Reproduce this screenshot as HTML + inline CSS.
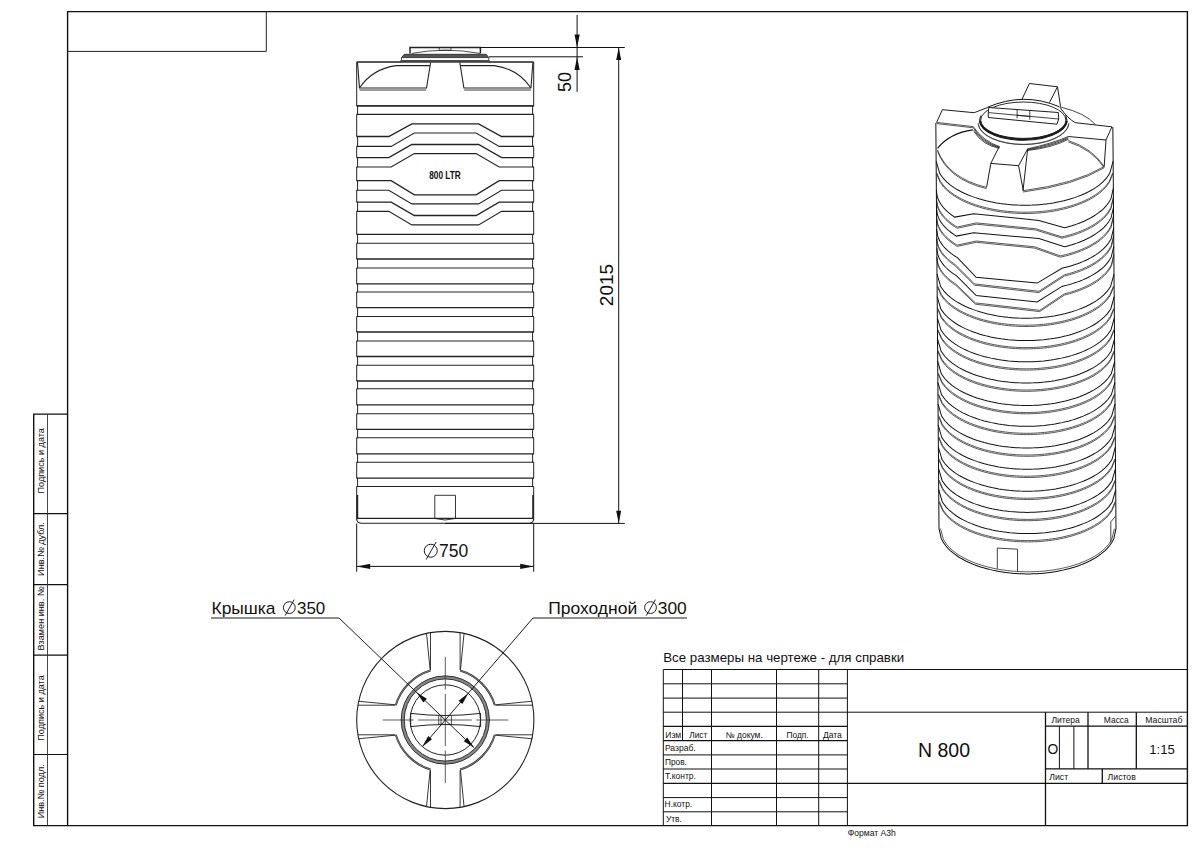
<!DOCTYPE html>
<html><head><meta charset="utf-8">
<style>
html,body{margin:0;padding:0;background:#fff;width:1200px;height:849px;overflow:hidden}
svg{display:block}
text{font-family:"Liberation Sans",sans-serif;fill:#111}
</style></head><body>
<svg width="1200" height="849" viewBox="0 0 1200 849">

<g fill="none" stroke="#111" stroke-width="1.4">
<path d="M67.6 11.6H1187.4V825.6H67.6Z"/>
<path d="M67.6 51.4H266.3V11.6" stroke-width="1" stroke="#222"/>
<path d="M67.6 414.1H33.7V825.6H67.6"/>
<path d="M33.7 513.7H67.6M33.7 584.7H67.6M33.7 655.2H67.6M33.7 754.5H67.6" stroke-width="1.2"/>
<path d="M47.5 414.1V825.6" stroke-width="0.9" stroke="#333"/>
</g>
<g font-size="9.1" fill="#222">
<text transform="translate(44.2 460.8) rotate(-90)" text-anchor="middle">Подпись и дата</text>
<text transform="translate(44.2 549) rotate(-90)" text-anchor="middle">Инв.№ дубл.</text>
<text transform="translate(44.2 618.5) rotate(-90)" text-anchor="middle">Взамен инв. №</text>
<text transform="translate(44.2 708) rotate(-90)" text-anchor="middle">Подпись и дата</text>
<text transform="translate(44.2 791.3) rotate(-90)" text-anchor="middle">Инв.№ подл.</text>
</g>
<g fill="none" stroke="#111" stroke-width="1">
<path d="M663.3 669.5H1187.4"/>
<path d="M663.3 669.5V825.6M682.5 669.5V740.6M711.5 669.5V825.6M776.5 669.5V825.6M818.7 669.5V825.6M847.4 669.5V825.6"/>
<path d="M663.3 683.8H847.4M663.3 698.1H847.4M663.3 712.2H1187.4M663.3 754.9H847.4M663.3 769H847.4M663.3 797.6H847.4M663.3 811.8H847.4"/>
<path d="M663.3 726.4H847.4M663.3 740.6H847.4M663.3 783.4H1187.4" stroke-width="1.3"/>
<path d="M1045.5 712.2V825.6M1088 712.2V768.8M1136.3 712.2V768.8M1102.3 768.8V783.4" stroke-width="1.3"/>
<path d="M1045.5 726.2H1187.4M1045.5 768.8H1187.4" stroke-width="1.3"/>
<path d="M1059.4 726.2V768.8M1073.9 726.2V768.8" stroke-width="1"/>
</g>
<g fill="#111">
<text x="663.2" y="662.3" font-size="13.4" textLength="241" lengthAdjust="spacingAndGlyphs">Все размеры на чертеже - для справки</text>
<text x="665.3" y="737.5" font-size="8.3" textLength="15.9" lengthAdjust="spacingAndGlyphs">Изм</text>
<text x="689.2" y="737.5" font-size="8.3" textLength="18.2" lengthAdjust="spacingAndGlyphs">Лист</text>
<text x="725.6" y="737.5" font-size="8.3" textLength="37.2" lengthAdjust="spacingAndGlyphs">№ докум.</text>
<text x="786.6" y="737.5" font-size="8.3" textLength="22.1" lengthAdjust="spacingAndGlyphs">Подп.</text>
<text x="822.9" y="737.5" font-size="8.3" textLength="19" lengthAdjust="spacingAndGlyphs">Дата</text>
<text x="664.9" y="750.9" font-size="8.3" textLength="30.8" lengthAdjust="spacingAndGlyphs">Разраб.</text>
<text x="664.9" y="764.9" font-size="8.3" textLength="22" lengthAdjust="spacingAndGlyphs">Пров.</text>
<text x="665.1" y="779.3" font-size="8.3" textLength="30.8" lengthAdjust="spacingAndGlyphs">Т.контр.</text>
<text x="664.6" y="807.4" font-size="8.3" textLength="27.6" lengthAdjust="spacingAndGlyphs">Н.котр.</text>
<text x="665.9" y="821.6" font-size="8.3" textLength="16" lengthAdjust="spacingAndGlyphs">Утв.</text>
<text x="944" y="756.7" font-size="19.5" text-anchor="middle">N 800</text>
<text x="1051.4" y="722.9" font-size="8.3" textLength="28.5" lengthAdjust="spacingAndGlyphs">Литера</text>
<text x="1103.8" y="722.9" font-size="8.3" textLength="25" lengthAdjust="spacingAndGlyphs">Масса</text>
<text x="1145.3" y="722.9" font-size="8.3" textLength="37.1" lengthAdjust="spacingAndGlyphs">Масштаб</text>
<text x="1047.6" y="753.6" font-size="13.8">O</text>
<text x="1149.3" y="753.6" font-size="13.1">1:15</text>
<text x="1049.3" y="779.5" font-size="8.3" textLength="18.9" lengthAdjust="spacingAndGlyphs">Лист</text>
<text x="1107.6" y="779.5" font-size="8.3" textLength="28.2" lengthAdjust="spacingAndGlyphs">Листов</text>
<text x="847.8" y="835.8" font-size="8.8" textLength="48" lengthAdjust="spacingAndGlyphs">Формат A3h</text>
</g>
<g fill="none" stroke="#222" stroke-width="1">
<path d="M356.7 62V105.8H357.6V114.4H356.7V136.5H357.6V146.4H356.7V157.6H357.6V167H356.7V180.7H357.6V190.3H356.7V202.1H357.6V211.4H356.7V234.4H357.6V243.3H356.7V259H357.6V268H356.7V283.9H357.6V292H356.7V307.6H357.6V316.5H356.7V332H357.6V341H356.7V356.5H357.6V365.2H356.7V381H357.6V388.8H356.7V404.8H357.6V413.7H356.7V429.3H357.6V437.8H356.7V453.9H357.6V462.2H356.7V478.2H357.6V486.5H356.7V519.5"/>
<path d="M533.7 62V105.8H532.6V114.4H533.7V136.5H532.6V146.4H533.7V157.6H532.6V167H533.7V180.7H532.6V190.3H533.7V202.1H532.6V211.4H533.7V234.4H532.6V243.3H533.7V259H532.6V268H533.7V283.9H532.6V292H533.7V307.6H532.6V316.5H533.7V332H532.6V341H533.7V356.5H532.6V365.2H533.7V381H532.6V388.8H533.7V404.8H532.6V413.7H533.7V429.3H532.6V437.8H533.7V453.9H532.6V462.2H533.7V478.2H532.6V486.5H533.7V519.5"/>
<path d="M356.7 105.8H533.7" stroke-width="1.3"/>
<path d="M356.7 114.4H533.7" stroke-width="1.1"/>
<path d="M356.7 136.5H388.8L411.8 123.9H478.6L501.6 136.5H533.7" stroke-width="1.3"/>
<path d="M356.7 146.4H391.2L414.3 133H476.1L499.2 146.4H533.7" stroke-width="1.1"/>
<path d="M356.7 157.6H388.8L411.8 144.5H478.6L501.6 157.6H533.7" stroke-width="1.3"/>
<path d="M356.7 167H391.2L414.3 153.6H476.1L499.2 167H533.7" stroke-width="1.1"/>
<path d="M356.7 180.7H391.2L414.3 194.8H476.1L499.2 180.7H533.7" stroke-width="1.3"/>
<path d="M356.7 190.3H388.8L411.8 203.9H478.6L501.6 190.3H533.7" stroke-width="1.1"/>
<path d="M356.7 202.1H391.2L414.3 215.5H476.1L499.2 202.1H533.7" stroke-width="1.3"/>
<path d="M356.7 211.4H388.8L411.8 224.9H478.6L501.6 211.4H533.7" stroke-width="1.1"/>
<path d="M356.7 234.4H533.7" stroke-width="1.3"/>
<path d="M356.7 243.3H533.7" stroke-width="1.1"/>
<path d="M356.7 259H533.7" stroke-width="1.3"/>
<path d="M356.7 268H533.7" stroke-width="1.1"/>
<path d="M356.7 283.9H533.7" stroke-width="1.3"/>
<path d="M356.7 292H533.7" stroke-width="1.1"/>
<path d="M356.7 307.6H533.7" stroke-width="1.3"/>
<path d="M356.7 316.5H533.7" stroke-width="1.1"/>
<path d="M356.7 332H533.7" stroke-width="1.3"/>
<path d="M356.7 341H533.7" stroke-width="1.1"/>
<path d="M356.7 356.5H533.7" stroke-width="1.3"/>
<path d="M356.7 365.2H533.7" stroke-width="1.1"/>
<path d="M356.7 381H533.7" stroke-width="1.3"/>
<path d="M356.7 388.8H533.7" stroke-width="1.1"/>
<path d="M356.7 404.8H533.7" stroke-width="1.3"/>
<path d="M356.7 413.7H533.7" stroke-width="1.1"/>
<path d="M356.7 429.3H533.7" stroke-width="1.3"/>
<path d="M356.7 437.8H533.7" stroke-width="1.1"/>
<path d="M356.7 453.9H533.7" stroke-width="1.3"/>
<path d="M356.7 462.2H533.7" stroke-width="1.1"/>
<path d="M356.7 478.2H533.7" stroke-width="1.3"/>
<path d="M356.7 486.5H533.7" stroke-width="1.1"/>
<path d="M356.7 62H401M489.4 62H533.7" stroke-width="1.6"/>
<path d="M357.5 62.5L359.5 88H426.5L430.6 62.5M532.9 62.5L530.9 88H463.9L459.8 62.5" stroke-width="1.1"/>
<path d="M359.5 90H426.2M530.9 90H464.2" stroke-width="0.9"/>
<path d="M359.5 88Q372 69 396 65.6H430M530.9 88Q518.4 69 494.4 65.6H460.4" stroke-width="1.1"/>
<path d="M356.7 105.8H533.7" stroke-width="1.3"/>
<path d="M410 53.4V47.5H480.4V53.4" stroke-width="1.5"/>
<path d="M439.2 47.8V50.3H451V47.8" stroke-width="0.8"/>
<path d="M411.7 53.4Q445 47 480 53.4" stroke-width="0.8"/>
<path d="M404.2 54.3H486.2L488.8 57.6H401.5Z" fill="#555" stroke-width="0.8"/>
<path d="M401.5 57.6V60.5H488.8V57.6" stroke-width="0.8"/>
<rect x="400" y="60.4" width="90" height="2.4" fill="#444" stroke="none"/>
<path d="M356.7 518.4H533.7" stroke-width="1.1"/>
<path d="M356.7 519Q357 523.3 361.5 523.3H529Q533.4 523.3 533.7 519" stroke-width="1.1"/>
<path d="M357.4 495V518M533 495V518" stroke-width="1.6"/>
<path d="M434.8 518.5V495.3H455.5V518.5Q445 521.5 434.8 518.5" stroke-width="0.9"/>
</g>
<text x="445" y="179.3" font-size="11.3" font-weight="bold" text-anchor="middle" textLength="31.6" lengthAdjust="spacingAndGlyphs" fill="#222">800 LTR</text>
<g fill="none" stroke="#111" stroke-width="1">
<path d="M356.7 523.5V571.7M533.7 523.5V571.7M356.7 566.4H533.7"/>
<path d="M618.7 47.5V523.3M480.4 47.5H624.8M445 523.4H624.8"/>
<path d="M577.1 15V91.9M489 56.8H583"/>
</g>
<g fill="#111" stroke="none">
<path d="M356.70 566.40L370.20 563.80L370.20 569.00Z"/>
<path d="M533.70 566.40L520.20 569.00L520.20 563.80Z"/>
<path d="M618.70 47.50L621.20 60.00L616.20 60.00Z"/>
<path d="M618.70 523.30L616.20 510.80L621.20 510.80Z"/>
<path d="M577.10 47.40L574.50 34.40L579.70 34.40Z"/>
<path d="M577.10 56.90L579.70 69.90L574.50 69.90Z"/>
</g>
<g fill="none" stroke="#111" stroke-width="0.95"><circle cx="430.75" cy="550.75" r="6.5"/><path d="M426.15 559.55L436.15 541.95"/></g>
<text x="439" y="557" font-size="17.5">750</text>
<text transform="translate(613 285) rotate(-90)" font-size="19" text-anchor="middle">2015</text>
<text transform="translate(571 81.9) rotate(-90)" font-size="18" text-anchor="middle">50</text>
<g fill="none" stroke="#222" stroke-width="1">
<circle cx="445.3" cy="720.0" r="88.6" stroke-width="1.1"/>
<path d="M494.84 734.80A51.7 51.7 0 0 1 460.10 769.54M430.50 769.54A51.7 51.7 0 0 1 395.76 734.80M395.76 705.20A51.7 51.7 0 0 1 430.50 670.46M460.10 670.46A51.7 51.7 0 0 1 494.84 705.20" stroke="#333" stroke-width="2"/>
<path d="M494.84 734.80A51.7 51.7 0 0 1 460.10 769.54M430.50 769.54A51.7 51.7 0 0 1 395.76 734.80M395.76 705.20A51.7 51.7 0 0 1 430.50 670.46M460.10 670.46A51.7 51.7 0 0 1 494.84 705.20" stroke="#fff" stroke-width="0.35"/>
<path d="M495.46 705.20L532.66 705.20M495.46 704.80L532.36 701.20M495.46 734.80L532.66 734.80M495.46 735.20L532.36 738.80M460.10 770.16L460.10 807.36M460.50 770.16L464.10 807.06M430.50 770.16L430.50 807.36M430.10 770.16L426.50 807.06M395.14 734.80L357.94 734.80M395.14 735.20L358.24 738.80M395.14 705.20L357.94 705.20M395.14 704.80L358.24 701.20M430.50 669.84L430.50 632.64M430.10 669.84L426.50 632.94M460.10 669.84L460.10 632.64M460.50 669.84L464.10 632.94" stroke-width="0.9"/>
<circle cx="445.3" cy="720.0" r="42.6" stroke="#888" stroke-width="3.2"/>
<circle cx="445.3" cy="720.0" r="44.1" stroke="#333" stroke-width="1"/>
<circle cx="445.3" cy="720.0" r="41.1" stroke="#333" stroke-width="1"/>
<circle cx="445.3" cy="720.0" r="35.2" stroke-width="1"/>
<path d="M410.7 713.4Q445 717.6 480.6 713.4V726.6Q445 722.4 410.7 726.6Z" stroke-width="1"/>
<path d="M438.7 715.6V724.4H451.4V715.6M441 715.8V724.2" stroke-width="0.8"/>
<path d="M382.5 720.0H413.7M418.2 720.0H471.8M476.3 720.0H508.3M445.3 656.8V689.5M445.3 694V746M445.3 750.5V783.2" stroke="#333" stroke-width="0.8"/>
</g>
<g fill="none" stroke="#111" stroke-width="0.95">
<path d="M211 618H339L474.16 747.69"/>
<path d="M687 618H533L422.29 746.77"/>
</g>
<g fill="#111" stroke="none">
<path d="M416.44 692.31L426.83 698.81L423.37 702.42Z"/>
<path d="M474.16 747.69L463.77 741.19L467.23 737.58Z"/>
<path d="M468.31 693.23L462.39 703.96L458.59 700.70Z"/>
<path d="M422.29 746.77L428.21 736.04L432.01 739.30Z"/>
</g>
<text x="211.5" y="613.8" font-size="16.4" textLength="64" lengthAdjust="spacingAndGlyphs">Крышка</text>
<g fill="none" stroke="#111" stroke-width="0.95"><circle cx="289.3" cy="607.6" r="5.9"/><path d="M285.12 615.59L294.20 599.61"/></g>
<text x="297" y="613.8" font-size="16.4" textLength="28.3" lengthAdjust="spacingAndGlyphs">350</text>
<text x="548.2" y="613.8" font-size="16.4" textLength="89" lengthAdjust="spacingAndGlyphs">Проходной</text>
<g fill="none" stroke="#111" stroke-width="0.95"><circle cx="650.5" cy="607.6" r="5.9"/><path d="M646.32 615.59L655.40 599.61"/></g>
<text x="657.8" y="613.8" font-size="16.4" textLength="29" lengthAdjust="spacingAndGlyphs">300</text>
<g fill="none" stroke="#111" stroke-width="1" transform="matrix(1 0 0.0078 1 -1.326 0)">
<path d="M936.2 123V528.6L936.20 528.60L938.41 538.67L940.62 542.74L942.84 545.81L945.05 548.35L947.26 550.53L949.48 552.46L951.69 554.20L953.90 555.78L956.11 557.23L958.33 558.56L960.54 559.80L962.75 560.95L964.96 562.02L967.18 563.03L969.39 563.96L971.60 564.84L973.81 565.66L976.03 566.43L978.24 567.15L980.45 567.83L982.66 568.46L984.88 569.05L987.09 569.61L989.30 570.12L991.51 570.59L993.73 571.03L995.94 571.44L998.15 571.81L1000.36 572.15L1002.58 572.46L1004.79 572.74L1007.00 572.98L1009.21 573.20L1011.43 573.39L1013.64 573.54L1015.85 573.67L1018.06 573.77L1020.28 573.84L1022.49 573.89L1024.70 573.90L1026.91 573.89L1029.12 573.84L1031.34 573.77L1033.55 573.67L1035.76 573.54L1037.98 573.39L1040.19 573.20L1042.40 572.98L1044.61 572.74L1046.83 572.46L1049.04 572.15L1051.25 571.81L1053.46 571.44L1055.67 571.03L1057.89 570.59L1060.10 570.12L1062.31 569.61L1064.53 569.05L1066.74 568.46L1068.95 567.83L1071.16 567.15L1073.38 566.43L1075.59 565.66L1077.80 564.84L1080.01 563.96L1082.23 563.03L1084.44 562.02L1086.65 560.95L1088.86 559.80L1091.08 558.56L1093.29 557.23L1095.50 555.78L1097.71 554.20L1099.92 552.46L1102.14 550.53L1104.35 548.35L1106.56 545.81L1108.78 542.74L1110.99 538.67L1113.20 528.60L1113.2 528.6V127"/>
<path d="M937.70 528.60L940.60 539.66L943.50 544.11L946.40 547.43L949.30 550.15L952.20 552.48L955.10 554.52L958.00 556.34L960.90 557.97L963.80 559.45L966.70 560.80L969.60 562.03L972.50 563.16L975.40 564.19L978.30 565.14L981.20 566.01L984.10 566.81L987.00 567.53L989.90 568.19L992.80 568.79L995.70 569.33L998.60 569.81L1001.50 570.24L1004.40 570.61L1007.30 570.93L1010.20 571.20L1013.10 571.41L1016.00 571.58L1018.90 571.70L1021.80 571.78L1024.70 571.80L1027.60 571.78L1030.50 571.70L1033.40 571.58L1036.30 571.41L1039.20 571.20L1042.10 570.93L1045.00 570.61L1047.90 570.24L1050.80 569.81L1053.70 569.33L1056.60 568.79L1059.50 568.19L1062.40 567.53L1065.30 566.81L1068.20 566.01L1071.10 565.14L1074.00 564.19L1076.90 563.16L1079.80 562.03L1082.70 560.80L1085.60 559.45L1088.50 557.97L1091.40 556.34L1094.30 554.52L1097.20 552.48L1100.10 550.15L1103.00 547.43L1105.90 544.11L1108.80 539.66L1111.70 528.60" stroke-width="0.7"/>
<path d="M936.20 161.20L939.74 173.52L943.28 178.44L946.82 182.10L950.36 185.07L953.90 187.60L957.44 189.80L960.98 191.73L964.52 193.46L968.06 195.01L971.60 196.40L975.14 197.65L978.68 198.78L982.22 199.80L985.76 200.71L989.30 201.53L992.84 202.25L996.38 202.89L999.92 203.44L1003.46 203.91L1007.00 204.31L1010.54 204.63L1014.08 204.88L1017.62 205.06L1021.16 205.16L1024.70 205.20L1028.24 205.16L1031.78 205.06L1035.32 204.88L1038.86 204.63L1042.40 204.31L1045.94 203.91L1049.48 203.44L1053.02 202.89L1056.56 202.25L1060.10 201.53L1063.64 200.71L1067.18 199.80L1070.72 198.78L1074.26 197.65L1077.80 196.40L1081.34 195.01L1084.88 193.46L1088.42 191.73L1091.96 189.80L1095.50 187.60L1099.04 185.07L1102.58 182.10L1106.12 178.44L1109.66 173.52L1113.20 161.20"/>
<path d="M936.70 172.87L940.22 181.31L943.74 185.97L947.26 189.50L950.78 192.39L954.30 194.86L957.82 197.02L961.34 198.92L964.86 200.62L968.38 202.14L971.90 203.51L975.42 204.75L978.94 205.86L982.46 206.86L985.98 207.77L989.50 208.57L993.02 209.28L996.54 209.91L1000.06 210.46L1003.58 210.93L1007.10 211.32L1010.62 211.64L1014.14 211.89L1017.66 212.06L1021.18 212.17L1024.70 212.20L1028.22 212.17L1031.74 212.06L1035.26 211.89L1038.78 211.64L1042.30 211.32L1045.82 210.93L1049.34 210.46L1052.86 209.91L1056.38 209.28L1059.90 208.57L1063.42 207.77L1066.94 206.86L1070.46 205.86L1073.98 204.75L1077.50 203.51L1081.02 202.14L1084.54 200.62L1088.06 198.92L1091.58 197.02L1095.10 194.86L1098.62 192.39L1102.14 189.50L1105.66 185.97L1109.18 181.31L1112.70 172.87" stroke="#222" stroke-width="0.75"/>
<path d="M936.70 172.87L940.22 181.31L943.74 185.97L947.26 189.50L950.78 192.39L954.30 194.86L957.82 197.02L961.34 198.92L964.86 200.62L968.38 202.14L971.90 203.51L975.42 204.75L978.94 205.86L982.46 206.86L985.98 207.77L989.50 208.57L993.02 209.28L996.54 209.91L1000.06 210.46L1003.58 210.93L1007.10 211.32L1010.62 211.64L1014.14 211.89L1017.66 212.06L1021.18 212.17L1024.70 212.20L1028.22 212.17L1031.74 212.06L1035.26 211.89L1038.78 211.64L1042.30 211.32L1045.82 210.93L1049.34 210.46L1052.86 209.91L1056.38 209.28L1059.90 208.57L1063.42 207.77L1066.94 206.86L1070.46 205.86L1073.98 204.75L1077.50 203.51L1081.02 202.14L1084.54 200.62L1088.06 198.92L1091.58 197.02L1095.10 194.86L1098.62 192.39L1102.14 189.50L1105.66 185.97L1109.18 181.31L1112.70 172.87" stroke="#222" stroke-width="0.75" transform="translate(0 1.3)"/>
<path d="M936.20 274.20L939.74 286.52L943.28 291.44L946.82 295.10L950.36 298.07L953.90 300.60L957.44 302.80L960.98 304.73L964.52 306.46L968.06 308.01L971.60 309.40L975.14 310.65L978.68 311.78L982.22 312.80L985.76 313.71L989.30 314.53L992.84 315.25L996.38 315.89L999.92 316.44L1003.46 316.91L1007.00 317.31L1010.54 317.63L1014.08 317.88L1017.62 318.06L1021.16 318.16L1024.70 318.20L1028.24 318.16L1031.78 318.06L1035.32 317.88L1038.86 317.63L1042.40 317.31L1045.94 316.91L1049.48 316.44L1053.02 315.89L1056.56 315.25L1060.10 314.53L1063.64 313.71L1067.18 312.80L1070.72 311.78L1074.26 310.65L1077.80 309.40L1081.34 308.01L1084.88 306.46L1088.42 304.73L1091.96 302.80L1095.50 300.60L1099.04 298.07L1102.58 295.10L1106.12 291.44L1109.66 286.52L1113.20 274.20"/>
<path d="M936.70 285.87L940.22 294.31L943.74 298.97L947.26 302.50L950.78 305.39L954.30 307.86L957.82 310.02L961.34 311.92L964.86 313.62L968.38 315.14L971.90 316.51L975.42 317.75L978.94 318.86L982.46 319.86L985.98 320.77L989.50 321.57L993.02 322.28L996.54 322.91L1000.06 323.46L1003.58 323.93L1007.10 324.32L1010.62 324.64L1014.14 324.89L1017.66 325.06L1021.18 325.17L1024.70 325.20L1028.22 325.17L1031.74 325.06L1035.26 324.89L1038.78 324.64L1042.30 324.32L1045.82 323.93L1049.34 323.46L1052.86 322.91L1056.38 322.28L1059.90 321.57L1063.42 320.77L1066.94 319.86L1070.46 318.86L1073.98 317.75L1077.50 316.51L1081.02 315.14L1084.54 313.62L1088.06 311.92L1091.58 310.02L1095.10 307.86L1098.62 305.39L1102.14 302.50L1105.66 298.97L1109.18 294.31L1112.70 285.87" stroke="#222" stroke-width="0.75"/>
<path d="M936.70 285.87L940.22 294.31L943.74 298.97L947.26 302.50L950.78 305.39L954.30 307.86L957.82 310.02L961.34 311.92L964.86 313.62L968.38 315.14L971.90 316.51L975.42 317.75L978.94 318.86L982.46 319.86L985.98 320.77L989.50 321.57L993.02 322.28L996.54 322.91L1000.06 323.46L1003.58 323.93L1007.10 324.32L1010.62 324.64L1014.14 324.89L1017.66 325.06L1021.18 325.17L1024.70 325.20L1028.22 325.17L1031.74 325.06L1035.26 324.89L1038.78 324.64L1042.30 324.32L1045.82 323.93L1049.34 323.46L1052.86 322.91L1056.38 322.28L1059.90 321.57L1063.42 320.77L1066.94 319.86L1070.46 318.86L1073.98 317.75L1077.50 316.51L1081.02 315.14L1084.54 313.62L1088.06 311.92L1091.58 310.02L1095.10 307.86L1098.62 305.39L1102.14 302.50L1105.66 298.97L1109.18 294.31L1112.70 285.87" stroke="#222" stroke-width="0.75" transform="translate(0 1.3)"/>
<path d="M936.20 296.60L939.74 308.92L943.28 313.84L946.82 317.50L950.36 320.47L953.90 323.00L957.44 325.20L960.98 327.13L964.52 328.86L968.06 330.41L971.60 331.80L975.14 333.05L978.68 334.18L982.22 335.20L985.76 336.11L989.30 336.93L992.84 337.65L996.38 338.29L999.92 338.84L1003.46 339.31L1007.00 339.71L1010.54 340.03L1014.08 340.28L1017.62 340.46L1021.16 340.56L1024.70 340.60L1028.24 340.56L1031.78 340.46L1035.32 340.28L1038.86 340.03L1042.40 339.71L1045.94 339.31L1049.48 338.84L1053.02 338.29L1056.56 337.65L1060.10 336.93L1063.64 336.11L1067.18 335.20L1070.72 334.18L1074.26 333.05L1077.80 331.80L1081.34 330.41L1084.88 328.86L1088.42 327.13L1091.96 325.20L1095.50 323.00L1099.04 320.47L1102.58 317.50L1106.12 313.84L1109.66 308.92L1113.20 296.60"/>
<path d="M936.70 308.27L940.22 316.71L943.74 321.37L947.26 324.90L950.78 327.79L954.30 330.26L957.82 332.42L961.34 334.32L964.86 336.02L968.38 337.54L971.90 338.91L975.42 340.15L978.94 341.26L982.46 342.26L985.98 343.17L989.50 343.97L993.02 344.68L996.54 345.31L1000.06 345.86L1003.58 346.33L1007.10 346.72L1010.62 347.04L1014.14 347.29L1017.66 347.46L1021.18 347.57L1024.70 347.60L1028.22 347.57L1031.74 347.46L1035.26 347.29L1038.78 347.04L1042.30 346.72L1045.82 346.33L1049.34 345.86L1052.86 345.31L1056.38 344.68L1059.90 343.97L1063.42 343.17L1066.94 342.26L1070.46 341.26L1073.98 340.15L1077.50 338.91L1081.02 337.54L1084.54 336.02L1088.06 334.32L1091.58 332.42L1095.10 330.26L1098.62 327.79L1102.14 324.90L1105.66 321.37L1109.18 316.71L1112.70 308.27" stroke="#222" stroke-width="0.75"/>
<path d="M936.70 308.27L940.22 316.71L943.74 321.37L947.26 324.90L950.78 327.79L954.30 330.26L957.82 332.42L961.34 334.32L964.86 336.02L968.38 337.54L971.90 338.91L975.42 340.15L978.94 341.26L982.46 342.26L985.98 343.17L989.50 343.97L993.02 344.68L996.54 345.31L1000.06 345.86L1003.58 346.33L1007.10 346.72L1010.62 347.04L1014.14 347.29L1017.66 347.46L1021.18 347.57L1024.70 347.60L1028.22 347.57L1031.74 347.46L1035.26 347.29L1038.78 347.04L1042.30 346.72L1045.82 346.33L1049.34 345.86L1052.86 345.31L1056.38 344.68L1059.90 343.97L1063.42 343.17L1066.94 342.26L1070.46 341.26L1073.98 340.15L1077.50 338.91L1081.02 337.54L1084.54 336.02L1088.06 334.32L1091.58 332.42L1095.10 330.26L1098.62 327.79L1102.14 324.90L1105.66 321.37L1109.18 316.71L1112.70 308.27" stroke="#222" stroke-width="0.75" transform="translate(0 1.3)"/>
<path d="M936.20 317.80L939.74 330.12L943.28 335.04L946.82 338.70L950.36 341.67L953.90 344.20L957.44 346.40L960.98 348.33L964.52 350.06L968.06 351.61L971.60 353.00L975.14 354.25L978.68 355.38L982.22 356.40L985.76 357.31L989.30 358.13L992.84 358.85L996.38 359.49L999.92 360.04L1003.46 360.51L1007.00 360.91L1010.54 361.23L1014.08 361.48L1017.62 361.66L1021.16 361.76L1024.70 361.80L1028.24 361.76L1031.78 361.66L1035.32 361.48L1038.86 361.23L1042.40 360.91L1045.94 360.51L1049.48 360.04L1053.02 359.49L1056.56 358.85L1060.10 358.13L1063.64 357.31L1067.18 356.40L1070.72 355.38L1074.26 354.25L1077.80 353.00L1081.34 351.61L1084.88 350.06L1088.42 348.33L1091.96 346.40L1095.50 344.20L1099.04 341.67L1102.58 338.70L1106.12 335.04L1109.66 330.12L1113.20 317.80"/>
<path d="M936.70 329.47L940.22 337.91L943.74 342.57L947.26 346.10L950.78 348.99L954.30 351.46L957.82 353.62L961.34 355.52L964.86 357.22L968.38 358.74L971.90 360.11L975.42 361.35L978.94 362.46L982.46 363.46L985.98 364.37L989.50 365.17L993.02 365.88L996.54 366.51L1000.06 367.06L1003.58 367.53L1007.10 367.92L1010.62 368.24L1014.14 368.49L1017.66 368.66L1021.18 368.77L1024.70 368.80L1028.22 368.77L1031.74 368.66L1035.26 368.49L1038.78 368.24L1042.30 367.92L1045.82 367.53L1049.34 367.06L1052.86 366.51L1056.38 365.88L1059.90 365.17L1063.42 364.37L1066.94 363.46L1070.46 362.46L1073.98 361.35L1077.50 360.11L1081.02 358.74L1084.54 357.22L1088.06 355.52L1091.58 353.62L1095.10 351.46L1098.62 348.99L1102.14 346.10L1105.66 342.57L1109.18 337.91L1112.70 329.47" stroke="#222" stroke-width="0.75"/>
<path d="M936.70 329.47L940.22 337.91L943.74 342.57L947.26 346.10L950.78 348.99L954.30 351.46L957.82 353.62L961.34 355.52L964.86 357.22L968.38 358.74L971.90 360.11L975.42 361.35L978.94 362.46L982.46 363.46L985.98 364.37L989.50 365.17L993.02 365.88L996.54 366.51L1000.06 367.06L1003.58 367.53L1007.10 367.92L1010.62 368.24L1014.14 368.49L1017.66 368.66L1021.18 368.77L1024.70 368.80L1028.22 368.77L1031.74 368.66L1035.26 368.49L1038.78 368.24L1042.30 367.92L1045.82 367.53L1049.34 367.06L1052.86 366.51L1056.38 365.88L1059.90 365.17L1063.42 364.37L1066.94 363.46L1070.46 362.46L1073.98 361.35L1077.50 360.11L1081.02 358.74L1084.54 357.22L1088.06 355.52L1091.58 353.62L1095.10 351.46L1098.62 348.99L1102.14 346.10L1105.66 342.57L1109.18 337.91L1112.70 329.47" stroke="#222" stroke-width="0.75" transform="translate(0 1.3)"/>
<path d="M936.20 339.00L939.74 351.32L943.28 356.24L946.82 359.90L950.36 362.87L953.90 365.40L957.44 367.60L960.98 369.53L964.52 371.26L968.06 372.81L971.60 374.20L975.14 375.45L978.68 376.58L982.22 377.60L985.76 378.51L989.30 379.33L992.84 380.05L996.38 380.69L999.92 381.24L1003.46 381.71L1007.00 382.11L1010.54 382.43L1014.08 382.68L1017.62 382.86L1021.16 382.96L1024.70 383.00L1028.24 382.96L1031.78 382.86L1035.32 382.68L1038.86 382.43L1042.40 382.11L1045.94 381.71L1049.48 381.24L1053.02 380.69L1056.56 380.05L1060.10 379.33L1063.64 378.51L1067.18 377.60L1070.72 376.58L1074.26 375.45L1077.80 374.20L1081.34 372.81L1084.88 371.26L1088.42 369.53L1091.96 367.60L1095.50 365.40L1099.04 362.87L1102.58 359.90L1106.12 356.24L1109.66 351.32L1113.20 339.00"/>
<path d="M936.70 350.67L940.22 359.11L943.74 363.77L947.26 367.30L950.78 370.19L954.30 372.66L957.82 374.82L961.34 376.72L964.86 378.42L968.38 379.94L971.90 381.31L975.42 382.55L978.94 383.66L982.46 384.66L985.98 385.57L989.50 386.37L993.02 387.08L996.54 387.71L1000.06 388.26L1003.58 388.73L1007.10 389.12L1010.62 389.44L1014.14 389.69L1017.66 389.86L1021.18 389.97L1024.70 390.00L1028.22 389.97L1031.74 389.86L1035.26 389.69L1038.78 389.44L1042.30 389.12L1045.82 388.73L1049.34 388.26L1052.86 387.71L1056.38 387.08L1059.90 386.37L1063.42 385.57L1066.94 384.66L1070.46 383.66L1073.98 382.55L1077.50 381.31L1081.02 379.94L1084.54 378.42L1088.06 376.72L1091.58 374.82L1095.10 372.66L1098.62 370.19L1102.14 367.30L1105.66 363.77L1109.18 359.11L1112.70 350.67" stroke="#222" stroke-width="0.75"/>
<path d="M936.70 350.67L940.22 359.11L943.74 363.77L947.26 367.30L950.78 370.19L954.30 372.66L957.82 374.82L961.34 376.72L964.86 378.42L968.38 379.94L971.90 381.31L975.42 382.55L978.94 383.66L982.46 384.66L985.98 385.57L989.50 386.37L993.02 387.08L996.54 387.71L1000.06 388.26L1003.58 388.73L1007.10 389.12L1010.62 389.44L1014.14 389.69L1017.66 389.86L1021.18 389.97L1024.70 390.00L1028.22 389.97L1031.74 389.86L1035.26 389.69L1038.78 389.44L1042.30 389.12L1045.82 388.73L1049.34 388.26L1052.86 387.71L1056.38 387.08L1059.90 386.37L1063.42 385.57L1066.94 384.66L1070.46 383.66L1073.98 382.55L1077.50 381.31L1081.02 379.94L1084.54 378.42L1088.06 376.72L1091.58 374.82L1095.10 372.66L1098.62 370.19L1102.14 367.30L1105.66 363.77L1109.18 359.11L1112.70 350.67" stroke="#222" stroke-width="0.75" transform="translate(0 1.3)"/>
<path d="M936.20 361.50L939.74 373.82L943.28 378.74L946.82 382.40L950.36 385.37L953.90 387.90L957.44 390.10L960.98 392.03L964.52 393.76L968.06 395.31L971.60 396.70L975.14 397.95L978.68 399.08L982.22 400.10L985.76 401.01L989.30 401.83L992.84 402.55L996.38 403.19L999.92 403.74L1003.46 404.21L1007.00 404.61L1010.54 404.93L1014.08 405.18L1017.62 405.36L1021.16 405.46L1024.70 405.50L1028.24 405.46L1031.78 405.36L1035.32 405.18L1038.86 404.93L1042.40 404.61L1045.94 404.21L1049.48 403.74L1053.02 403.19L1056.56 402.55L1060.10 401.83L1063.64 401.01L1067.18 400.10L1070.72 399.08L1074.26 397.95L1077.80 396.70L1081.34 395.31L1084.88 393.76L1088.42 392.03L1091.96 390.10L1095.50 387.90L1099.04 385.37L1102.58 382.40L1106.12 378.74L1109.66 373.82L1113.20 361.50"/>
<path d="M936.70 373.17L940.22 381.61L943.74 386.27L947.26 389.80L950.78 392.69L954.30 395.16L957.82 397.32L961.34 399.22L964.86 400.92L968.38 402.44L971.90 403.81L975.42 405.05L978.94 406.16L982.46 407.16L985.98 408.07L989.50 408.87L993.02 409.58L996.54 410.21L1000.06 410.76L1003.58 411.23L1007.10 411.62L1010.62 411.94L1014.14 412.19L1017.66 412.36L1021.18 412.47L1024.70 412.50L1028.22 412.47L1031.74 412.36L1035.26 412.19L1038.78 411.94L1042.30 411.62L1045.82 411.23L1049.34 410.76L1052.86 410.21L1056.38 409.58L1059.90 408.87L1063.42 408.07L1066.94 407.16L1070.46 406.16L1073.98 405.05L1077.50 403.81L1081.02 402.44L1084.54 400.92L1088.06 399.22L1091.58 397.32L1095.10 395.16L1098.62 392.69L1102.14 389.80L1105.66 386.27L1109.18 381.61L1112.70 373.17" stroke="#222" stroke-width="0.75"/>
<path d="M936.70 373.17L940.22 381.61L943.74 386.27L947.26 389.80L950.78 392.69L954.30 395.16L957.82 397.32L961.34 399.22L964.86 400.92L968.38 402.44L971.90 403.81L975.42 405.05L978.94 406.16L982.46 407.16L985.98 408.07L989.50 408.87L993.02 409.58L996.54 410.21L1000.06 410.76L1003.58 411.23L1007.10 411.62L1010.62 411.94L1014.14 412.19L1017.66 412.36L1021.18 412.47L1024.70 412.50L1028.22 412.47L1031.74 412.36L1035.26 412.19L1038.78 411.94L1042.30 411.62L1045.82 411.23L1049.34 410.76L1052.86 410.21L1056.38 409.58L1059.90 408.87L1063.42 408.07L1066.94 407.16L1070.46 406.16L1073.98 405.05L1077.50 403.81L1081.02 402.44L1084.54 400.92L1088.06 399.22L1091.58 397.32L1095.10 395.16L1098.62 392.69L1102.14 389.80L1105.66 386.27L1109.18 381.61L1112.70 373.17" stroke="#222" stroke-width="0.75" transform="translate(0 1.3)"/>
<path d="M936.20 382.30L939.74 394.62L943.28 399.54L946.82 403.20L950.36 406.17L953.90 408.70L957.44 410.90L960.98 412.83L964.52 414.56L968.06 416.11L971.60 417.50L975.14 418.75L978.68 419.88L982.22 420.90L985.76 421.81L989.30 422.63L992.84 423.35L996.38 423.99L999.92 424.54L1003.46 425.01L1007.00 425.41L1010.54 425.73L1014.08 425.98L1017.62 426.16L1021.16 426.26L1024.70 426.30L1028.24 426.26L1031.78 426.16L1035.32 425.98L1038.86 425.73L1042.40 425.41L1045.94 425.01L1049.48 424.54L1053.02 423.99L1056.56 423.35L1060.10 422.63L1063.64 421.81L1067.18 420.90L1070.72 419.88L1074.26 418.75L1077.80 417.50L1081.34 416.11L1084.88 414.56L1088.42 412.83L1091.96 410.90L1095.50 408.70L1099.04 406.17L1102.58 403.20L1106.12 399.54L1109.66 394.62L1113.20 382.30"/>
<path d="M936.70 393.97L940.22 402.41L943.74 407.07L947.26 410.60L950.78 413.49L954.30 415.96L957.82 418.12L961.34 420.02L964.86 421.72L968.38 423.24L971.90 424.61L975.42 425.85L978.94 426.96L982.46 427.96L985.98 428.87L989.50 429.67L993.02 430.38L996.54 431.01L1000.06 431.56L1003.58 432.03L1007.10 432.42L1010.62 432.74L1014.14 432.99L1017.66 433.16L1021.18 433.27L1024.70 433.30L1028.22 433.27L1031.74 433.16L1035.26 432.99L1038.78 432.74L1042.30 432.42L1045.82 432.03L1049.34 431.56L1052.86 431.01L1056.38 430.38L1059.90 429.67L1063.42 428.87L1066.94 427.96L1070.46 426.96L1073.98 425.85L1077.50 424.61L1081.02 423.24L1084.54 421.72L1088.06 420.02L1091.58 418.12L1095.10 415.96L1098.62 413.49L1102.14 410.60L1105.66 407.07L1109.18 402.41L1112.70 393.97" stroke="#222" stroke-width="0.75"/>
<path d="M936.70 393.97L940.22 402.41L943.74 407.07L947.26 410.60L950.78 413.49L954.30 415.96L957.82 418.12L961.34 420.02L964.86 421.72L968.38 423.24L971.90 424.61L975.42 425.85L978.94 426.96L982.46 427.96L985.98 428.87L989.50 429.67L993.02 430.38L996.54 431.01L1000.06 431.56L1003.58 432.03L1007.10 432.42L1010.62 432.74L1014.14 432.99L1017.66 433.16L1021.18 433.27L1024.70 433.30L1028.22 433.27L1031.74 433.16L1035.26 432.99L1038.78 432.74L1042.30 432.42L1045.82 432.03L1049.34 431.56L1052.86 431.01L1056.38 430.38L1059.90 429.67L1063.42 428.87L1066.94 427.96L1070.46 426.96L1073.98 425.85L1077.50 424.61L1081.02 423.24L1084.54 421.72L1088.06 420.02L1091.58 418.12L1095.10 415.96L1098.62 413.49L1102.14 410.60L1105.66 407.07L1109.18 402.41L1112.70 393.97" stroke="#222" stroke-width="0.75" transform="translate(0 1.3)"/>
<path d="M936.20 404.00L939.74 416.32L943.28 421.24L946.82 424.90L950.36 427.87L953.90 430.40L957.44 432.60L960.98 434.53L964.52 436.26L968.06 437.81L971.60 439.20L975.14 440.45L978.68 441.58L982.22 442.60L985.76 443.51L989.30 444.33L992.84 445.05L996.38 445.69L999.92 446.24L1003.46 446.71L1007.00 447.11L1010.54 447.43L1014.08 447.68L1017.62 447.86L1021.16 447.96L1024.70 448.00L1028.24 447.96L1031.78 447.86L1035.32 447.68L1038.86 447.43L1042.40 447.11L1045.94 446.71L1049.48 446.24L1053.02 445.69L1056.56 445.05L1060.10 444.33L1063.64 443.51L1067.18 442.60L1070.72 441.58L1074.26 440.45L1077.80 439.20L1081.34 437.81L1084.88 436.26L1088.42 434.53L1091.96 432.60L1095.50 430.40L1099.04 427.87L1102.58 424.90L1106.12 421.24L1109.66 416.32L1113.20 404.00"/>
<path d="M936.70 415.67L940.22 424.11L943.74 428.77L947.26 432.30L950.78 435.19L954.30 437.66L957.82 439.82L961.34 441.72L964.86 443.42L968.38 444.94L971.90 446.31L975.42 447.55L978.94 448.66L982.46 449.66L985.98 450.57L989.50 451.37L993.02 452.08L996.54 452.71L1000.06 453.26L1003.58 453.73L1007.10 454.12L1010.62 454.44L1014.14 454.69L1017.66 454.86L1021.18 454.97L1024.70 455.00L1028.22 454.97L1031.74 454.86L1035.26 454.69L1038.78 454.44L1042.30 454.12L1045.82 453.73L1049.34 453.26L1052.86 452.71L1056.38 452.08L1059.90 451.37L1063.42 450.57L1066.94 449.66L1070.46 448.66L1073.98 447.55L1077.50 446.31L1081.02 444.94L1084.54 443.42L1088.06 441.72L1091.58 439.82L1095.10 437.66L1098.62 435.19L1102.14 432.30L1105.66 428.77L1109.18 424.11L1112.70 415.67" stroke="#222" stroke-width="0.75"/>
<path d="M936.70 415.67L940.22 424.11L943.74 428.77L947.26 432.30L950.78 435.19L954.30 437.66L957.82 439.82L961.34 441.72L964.86 443.42L968.38 444.94L971.90 446.31L975.42 447.55L978.94 448.66L982.46 449.66L985.98 450.57L989.50 451.37L993.02 452.08L996.54 452.71L1000.06 453.26L1003.58 453.73L1007.10 454.12L1010.62 454.44L1014.14 454.69L1017.66 454.86L1021.18 454.97L1024.70 455.00L1028.22 454.97L1031.74 454.86L1035.26 454.69L1038.78 454.44L1042.30 454.12L1045.82 453.73L1049.34 453.26L1052.86 452.71L1056.38 452.08L1059.90 451.37L1063.42 450.57L1066.94 449.66L1070.46 448.66L1073.98 447.55L1077.50 446.31L1081.02 444.94L1084.54 443.42L1088.06 441.72L1091.58 439.82L1095.10 437.66L1098.62 435.19L1102.14 432.30L1105.66 428.77L1109.18 424.11L1112.70 415.67" stroke="#222" stroke-width="0.75" transform="translate(0 1.3)"/>
<path d="M936.20 425.20L939.74 437.52L943.28 442.44L946.82 446.10L950.36 449.07L953.90 451.60L957.44 453.80L960.98 455.73L964.52 457.46L968.06 459.01L971.60 460.40L975.14 461.65L978.68 462.78L982.22 463.80L985.76 464.71L989.30 465.53L992.84 466.25L996.38 466.89L999.92 467.44L1003.46 467.91L1007.00 468.31L1010.54 468.63L1014.08 468.88L1017.62 469.06L1021.16 469.16L1024.70 469.20L1028.24 469.16L1031.78 469.06L1035.32 468.88L1038.86 468.63L1042.40 468.31L1045.94 467.91L1049.48 467.44L1053.02 466.89L1056.56 466.25L1060.10 465.53L1063.64 464.71L1067.18 463.80L1070.72 462.78L1074.26 461.65L1077.80 460.40L1081.34 459.01L1084.88 457.46L1088.42 455.73L1091.96 453.80L1095.50 451.60L1099.04 449.07L1102.58 446.10L1106.12 442.44L1109.66 437.52L1113.20 425.20"/>
<path d="M936.70 436.87L940.22 445.31L943.74 449.97L947.26 453.50L950.78 456.39L954.30 458.86L957.82 461.02L961.34 462.92L964.86 464.62L968.38 466.14L971.90 467.51L975.42 468.75L978.94 469.86L982.46 470.86L985.98 471.77L989.50 472.57L993.02 473.28L996.54 473.91L1000.06 474.46L1003.58 474.93L1007.10 475.32L1010.62 475.64L1014.14 475.89L1017.66 476.06L1021.18 476.17L1024.70 476.20L1028.22 476.17L1031.74 476.06L1035.26 475.89L1038.78 475.64L1042.30 475.32L1045.82 474.93L1049.34 474.46L1052.86 473.91L1056.38 473.28L1059.90 472.57L1063.42 471.77L1066.94 470.86L1070.46 469.86L1073.98 468.75L1077.50 467.51L1081.02 466.14L1084.54 464.62L1088.06 462.92L1091.58 461.02L1095.10 458.86L1098.62 456.39L1102.14 453.50L1105.66 449.97L1109.18 445.31L1112.70 436.87" stroke="#222" stroke-width="0.75"/>
<path d="M936.70 436.87L940.22 445.31L943.74 449.97L947.26 453.50L950.78 456.39L954.30 458.86L957.82 461.02L961.34 462.92L964.86 464.62L968.38 466.14L971.90 467.51L975.42 468.75L978.94 469.86L982.46 470.86L985.98 471.77L989.50 472.57L993.02 473.28L996.54 473.91L1000.06 474.46L1003.58 474.93L1007.10 475.32L1010.62 475.64L1014.14 475.89L1017.66 476.06L1021.18 476.17L1024.70 476.20L1028.22 476.17L1031.74 476.06L1035.26 475.89L1038.78 475.64L1042.30 475.32L1045.82 474.93L1049.34 474.46L1052.86 473.91L1056.38 473.28L1059.90 472.57L1063.42 471.77L1066.94 470.86L1070.46 469.86L1073.98 468.75L1077.50 467.51L1081.02 466.14L1084.54 464.62L1088.06 462.92L1091.58 461.02L1095.10 458.86L1098.62 456.39L1102.14 453.50L1105.66 449.97L1109.18 445.31L1112.70 436.87" stroke="#222" stroke-width="0.75" transform="translate(0 1.3)"/>
<path d="M936.20 447.20L939.74 459.52L943.28 464.44L946.82 468.10L950.36 471.07L953.90 473.60L957.44 475.80L960.98 477.73L964.52 479.46L968.06 481.01L971.60 482.40L975.14 483.65L978.68 484.78L982.22 485.80L985.76 486.71L989.30 487.53L992.84 488.25L996.38 488.89L999.92 489.44L1003.46 489.91L1007.00 490.31L1010.54 490.63L1014.08 490.88L1017.62 491.06L1021.16 491.16L1024.70 491.20L1028.24 491.16L1031.78 491.06L1035.32 490.88L1038.86 490.63L1042.40 490.31L1045.94 489.91L1049.48 489.44L1053.02 488.89L1056.56 488.25L1060.10 487.53L1063.64 486.71L1067.18 485.80L1070.72 484.78L1074.26 483.65L1077.80 482.40L1081.34 481.01L1084.88 479.46L1088.42 477.73L1091.96 475.80L1095.50 473.60L1099.04 471.07L1102.58 468.10L1106.12 464.44L1109.66 459.52L1113.20 447.20"/>
<path d="M936.70 458.87L940.22 467.31L943.74 471.97L947.26 475.50L950.78 478.39L954.30 480.86L957.82 483.02L961.34 484.92L964.86 486.62L968.38 488.14L971.90 489.51L975.42 490.75L978.94 491.86L982.46 492.86L985.98 493.77L989.50 494.57L993.02 495.28L996.54 495.91L1000.06 496.46L1003.58 496.93L1007.10 497.32L1010.62 497.64L1014.14 497.89L1017.66 498.06L1021.18 498.17L1024.70 498.20L1028.22 498.17L1031.74 498.06L1035.26 497.89L1038.78 497.64L1042.30 497.32L1045.82 496.93L1049.34 496.46L1052.86 495.91L1056.38 495.28L1059.90 494.57L1063.42 493.77L1066.94 492.86L1070.46 491.86L1073.98 490.75L1077.50 489.51L1081.02 488.14L1084.54 486.62L1088.06 484.92L1091.58 483.02L1095.10 480.86L1098.62 478.39L1102.14 475.50L1105.66 471.97L1109.18 467.31L1112.70 458.87" stroke="#222" stroke-width="0.75"/>
<path d="M936.70 458.87L940.22 467.31L943.74 471.97L947.26 475.50L950.78 478.39L954.30 480.86L957.82 483.02L961.34 484.92L964.86 486.62L968.38 488.14L971.90 489.51L975.42 490.75L978.94 491.86L982.46 492.86L985.98 493.77L989.50 494.57L993.02 495.28L996.54 495.91L1000.06 496.46L1003.58 496.93L1007.10 497.32L1010.62 497.64L1014.14 497.89L1017.66 498.06L1021.18 498.17L1024.70 498.20L1028.22 498.17L1031.74 498.06L1035.26 497.89L1038.78 497.64L1042.30 497.32L1045.82 496.93L1049.34 496.46L1052.86 495.91L1056.38 495.28L1059.90 494.57L1063.42 493.77L1066.94 492.86L1070.46 491.86L1073.98 490.75L1077.50 489.51L1081.02 488.14L1084.54 486.62L1088.06 484.92L1091.58 483.02L1095.10 480.86L1098.62 478.39L1102.14 475.50L1105.66 471.97L1109.18 467.31L1112.70 458.87" stroke="#222" stroke-width="0.75" transform="translate(0 1.3)"/>
<path d="M936.20 468.40L939.74 480.72L943.28 485.64L946.82 489.30L950.36 492.27L953.90 494.80L957.44 497.00L960.98 498.93L964.52 500.66L968.06 502.21L971.60 503.60L975.14 504.85L978.68 505.98L982.22 507.00L985.76 507.91L989.30 508.73L992.84 509.45L996.38 510.09L999.92 510.64L1003.46 511.11L1007.00 511.51L1010.54 511.83L1014.08 512.08L1017.62 512.26L1021.16 512.36L1024.70 512.40L1028.24 512.36L1031.78 512.26L1035.32 512.08L1038.86 511.83L1042.40 511.51L1045.94 511.11L1049.48 510.64L1053.02 510.09L1056.56 509.45L1060.10 508.73L1063.64 507.91L1067.18 507.00L1070.72 505.98L1074.26 504.85L1077.80 503.60L1081.34 502.21L1084.88 500.66L1088.42 498.93L1091.96 497.00L1095.50 494.80L1099.04 492.27L1102.58 489.30L1106.12 485.64L1109.66 480.72L1113.20 468.40"/>
<path d="M936.70 480.07L940.22 488.51L943.74 493.17L947.26 496.70L950.78 499.59L954.30 502.06L957.82 504.22L961.34 506.12L964.86 507.82L968.38 509.34L971.90 510.71L975.42 511.95L978.94 513.06L982.46 514.06L985.98 514.97L989.50 515.77L993.02 516.48L996.54 517.11L1000.06 517.66L1003.58 518.13L1007.10 518.52L1010.62 518.84L1014.14 519.09L1017.66 519.26L1021.18 519.37L1024.70 519.40L1028.22 519.37L1031.74 519.26L1035.26 519.09L1038.78 518.84L1042.30 518.52L1045.82 518.13L1049.34 517.66L1052.86 517.11L1056.38 516.48L1059.90 515.77L1063.42 514.97L1066.94 514.06L1070.46 513.06L1073.98 511.95L1077.50 510.71L1081.02 509.34L1084.54 507.82L1088.06 506.12L1091.58 504.22L1095.10 502.06L1098.62 499.59L1102.14 496.70L1105.66 493.17L1109.18 488.51L1112.70 480.07" stroke="#222" stroke-width="0.75"/>
<path d="M936.70 480.07L940.22 488.51L943.74 493.17L947.26 496.70L950.78 499.59L954.30 502.06L957.82 504.22L961.34 506.12L964.86 507.82L968.38 509.34L971.90 510.71L975.42 511.95L978.94 513.06L982.46 514.06L985.98 514.97L989.50 515.77L993.02 516.48L996.54 517.11L1000.06 517.66L1003.58 518.13L1007.10 518.52L1010.62 518.84L1014.14 519.09L1017.66 519.26L1021.18 519.37L1024.70 519.40L1028.22 519.37L1031.74 519.26L1035.26 519.09L1038.78 518.84L1042.30 518.52L1045.82 518.13L1049.34 517.66L1052.86 517.11L1056.38 516.48L1059.90 515.77L1063.42 514.97L1066.94 514.06L1070.46 513.06L1073.98 511.95L1077.50 510.71L1081.02 509.34L1084.54 507.82L1088.06 506.12L1091.58 504.22L1095.10 502.06L1098.62 499.59L1102.14 496.70L1105.66 493.17L1109.18 488.51L1112.70 480.07" stroke="#222" stroke-width="0.75" transform="translate(0 1.3)"/>
<path d="M936.20 489.60L939.74 501.92L943.28 506.84L946.82 510.50L950.36 513.47L953.90 516.00L957.44 518.20L960.98 520.13L964.52 521.86L968.06 523.41L971.60 524.80L975.14 526.05L978.68 527.18L982.22 528.20L985.76 529.11L989.30 529.93L992.84 530.65L996.38 531.29L999.92 531.84L1003.46 532.31L1007.00 532.71L1010.54 533.03L1014.08 533.28L1017.62 533.46L1021.16 533.56L1024.70 533.60L1028.24 533.56L1031.78 533.46L1035.32 533.28L1038.86 533.03L1042.40 532.71L1045.94 532.31L1049.48 531.84L1053.02 531.29L1056.56 530.65L1060.10 529.93L1063.64 529.11L1067.18 528.20L1070.72 527.18L1074.26 526.05L1077.80 524.80L1081.34 523.41L1084.88 521.86L1088.42 520.13L1091.96 518.20L1095.50 516.00L1099.04 513.47L1102.58 510.50L1106.12 506.84L1109.66 501.92L1113.20 489.60"/>
<path d="M936.70 501.27L940.22 509.71L943.74 514.37L947.26 517.90L950.78 520.79L954.30 523.26L957.82 525.42L961.34 527.32L964.86 529.02L968.38 530.54L971.90 531.91L975.42 533.15L978.94 534.26L982.46 535.26L985.98 536.17L989.50 536.97L993.02 537.68L996.54 538.31L1000.06 538.86L1003.58 539.33L1007.10 539.72L1010.62 540.04L1014.14 540.29L1017.66 540.46L1021.18 540.57L1024.70 540.60L1028.22 540.57L1031.74 540.46L1035.26 540.29L1038.78 540.04L1042.30 539.72L1045.82 539.33L1049.34 538.86L1052.86 538.31L1056.38 537.68L1059.90 536.97L1063.42 536.17L1066.94 535.26L1070.46 534.26L1073.98 533.15L1077.50 531.91L1081.02 530.54L1084.54 529.02L1088.06 527.32L1091.58 525.42L1095.10 523.26L1098.62 520.79L1102.14 517.90L1105.66 514.37L1109.18 509.71L1112.70 501.27" stroke="#222" stroke-width="0.75"/>
<path d="M936.70 501.27L940.22 509.71L943.74 514.37L947.26 517.90L950.78 520.79L954.30 523.26L957.82 525.42L961.34 527.32L964.86 529.02L968.38 530.54L971.90 531.91L975.42 533.15L978.94 534.26L982.46 535.26L985.98 536.17L989.50 536.97L993.02 537.68L996.54 538.31L1000.06 538.86L1003.58 539.33L1007.10 539.72L1010.62 540.04L1014.14 540.29L1017.66 540.46L1021.18 540.57L1024.70 540.60L1028.22 540.57L1031.74 540.46L1035.26 540.29L1038.78 540.04L1042.30 539.72L1045.82 539.33L1049.34 538.86L1052.86 538.31L1056.38 537.68L1059.90 536.97L1063.42 536.17L1066.94 535.26L1070.46 534.26L1073.98 533.15L1077.50 531.91L1081.02 530.54L1084.54 529.02L1088.06 527.32L1091.58 525.42L1095.10 523.26L1098.62 520.79L1102.14 517.90L1105.66 514.37L1109.18 509.71L1112.70 501.27" stroke="#222" stroke-width="0.75" transform="translate(0 1.3)"/>
<path d="M936.20 190.42L937.11 196.70L938.01 199.28L938.92 201.24L939.83 202.88L940.73 204.32L941.64 205.60L942.55 206.78L943.45 207.86L944.36 208.87L945.27 209.82L946.17 210.71L947.08 211.55L947.99 212.35L948.89 213.12L949.80 213.85L950.71 214.55L951.61 215.23L952.52 215.87L953.43 216.50L954.33 217.10L973.36 213.80L1038.51 220.40L1063.95 227.80L1066.41 227.17L1068.87 226.49L1071.34 225.76L1073.80 224.97L1076.26 224.12L1078.72 223.21L1081.19 222.24L1083.65 221.18L1086.11 220.05L1088.57 218.82L1091.04 217.49L1093.50 216.04L1095.96 214.45L1098.42 212.70L1100.89 210.75L1103.35 208.54L1105.81 205.96L1108.27 202.84L1110.74 198.67L1113.20 188.36"/>
<path d="M936.20 198.81L937.23 205.49L938.26 208.23L939.28 210.32L940.31 212.06L941.34 213.58L942.37 214.94L943.39 216.18L944.42 217.33L945.45 218.39L946.48 219.39L947.51 220.32L948.53 221.21L949.56 222.05L950.59 222.86L951.62 223.62L952.64 224.35L953.67 225.05L954.70 225.73L955.73 226.38L956.76 227.00L975.79 222.90L1035.14 228.70L1061.48 236.90L1064.06 236.29L1066.65 235.62L1069.24 234.90L1071.82 234.12L1074.41 233.28L1076.99 232.38L1079.58 231.40L1082.17 230.34L1084.75 229.20L1087.34 227.96L1089.93 226.62L1092.51 225.15L1095.10 223.54L1097.68 221.77L1100.27 219.78L1102.86 217.52L1105.44 214.89L1108.03 211.70L1110.61 207.44L1113.20 196.88" stroke="#222" stroke-width="0.75"/>
<path d="M936.20 198.81L937.23 205.49L938.26 208.23L939.28 210.32L940.31 212.06L941.34 213.58L942.37 214.94L943.39 216.18L944.42 217.33L945.45 218.39L946.48 219.39L947.51 220.32L948.53 221.21L949.56 222.05L950.59 222.86L951.62 223.62L952.64 224.35L953.67 225.05L954.70 225.73L955.73 226.38L956.76 227.00L975.79 222.90L1035.14 228.70L1061.48 236.90L1064.06 236.29L1066.65 235.62L1069.24 234.90L1071.82 234.12L1074.41 233.28L1076.99 232.38L1079.58 231.40L1082.17 230.34L1084.75 229.20L1087.34 227.96L1089.93 226.62L1092.51 225.15L1095.10 223.54L1097.68 221.77L1100.27 219.78L1102.86 217.52L1105.44 214.89L1108.03 211.70L1110.61 207.44L1113.20 196.88" stroke="#222" stroke-width="0.75" transform="translate(0 1.3)"/>
<path d="M936.20 208.43L937.18 214.98L938.17 217.66L939.15 219.70L940.14 221.41L941.12 222.90L942.11 224.24L943.09 225.45L944.07 226.58L945.06 227.62L946.04 228.60L947.03 229.52L948.01 230.39L948.99 231.22L949.98 232.01L950.96 232.77L951.95 233.49L952.93 234.18L953.92 234.84L954.90 235.48L955.88 236.10L973.21 232.80L1038.36 238.60L1063.80 246.80L1066.27 246.17L1068.74 245.49L1071.21 244.76L1073.68 243.97L1076.15 243.13L1078.62 242.22L1081.09 241.24L1083.56 240.18L1086.03 239.05L1088.50 237.82L1090.97 236.49L1093.44 235.04L1095.91 233.45L1098.38 231.70L1100.85 229.75L1103.32 227.53L1105.79 224.95L1108.26 221.82L1110.73 217.65L1113.20 207.33"/>
<path d="M936.20 216.99L937.22 223.65L938.24 226.39L939.26 228.46L940.28 230.20L941.30 231.72L942.32 233.07L943.34 234.31L944.37 235.45L945.39 236.51L946.41 237.50L947.43 238.44L948.45 239.32L949.47 240.16L950.49 240.96L951.51 241.73L952.53 242.46L953.55 243.16L954.57 243.83L955.59 244.48L956.61 245.10L975.65 241.00L1034.10 246.80L1059.63 255.90L1062.31 255.30L1064.99 254.65L1067.67 253.94L1070.34 253.17L1073.02 252.33L1075.70 251.43L1078.38 250.45L1081.06 249.40L1083.74 248.25L1086.41 247.01L1089.09 245.66L1091.77 244.18L1094.45 242.55L1097.13 240.76L1099.81 238.74L1102.49 236.46L1105.16 233.79L1107.84 230.55L1110.52 226.22L1113.20 215.47" stroke="#222" stroke-width="0.75"/>
<path d="M936.20 216.99L937.22 223.65L938.24 226.39L939.26 228.46L940.28 230.20L941.30 231.72L942.32 233.07L943.34 234.31L944.37 235.45L945.39 236.51L946.41 237.50L947.43 238.44L948.45 239.32L949.47 240.16L950.49 240.96L951.51 241.73L952.53 242.46L953.55 243.16L954.57 243.83L955.59 244.48L956.61 245.10L975.65 241.00L1034.10 246.80L1059.63 255.90L1062.31 255.30L1064.99 254.65L1067.67 253.94L1070.34 253.17L1073.02 252.33L1075.70 251.43L1078.38 250.45L1081.06 249.40L1083.74 248.25L1086.41 247.01L1089.09 245.66L1091.77 244.18L1094.45 242.55L1097.13 240.76L1099.81 238.74L1102.49 236.46L1105.16 233.79L1107.84 230.55L1110.52 226.22L1113.20 215.47" stroke="#222" stroke-width="0.75" transform="translate(0 1.3)"/>
<path d="M936.20 229.45L937.22 236.10L938.23 238.82L939.25 240.90L940.26 242.63L941.28 244.14L942.30 245.50L943.31 246.73L944.33 247.87L945.34 248.93L946.36 249.92L947.37 250.85L948.39 251.73L949.41 252.57L950.42 253.37L951.44 254.13L952.45 254.86L953.47 255.56L954.49 256.23L955.50 256.88L956.52 257.50L975.36 277.30L1036.32 283.10L1061.23 268.20L1063.83 267.59L1066.43 266.93L1069.03 266.21L1071.63 265.43L1074.23 264.59L1076.82 263.68L1079.42 262.70L1082.02 261.65L1084.62 260.51L1087.22 259.27L1089.82 257.92L1092.41 256.45L1095.01 254.84L1097.61 253.06L1100.21 251.07L1102.81 248.81L1105.41 246.18L1108.00 242.98L1110.60 238.71L1113.20 228.12"/>
<path d="M936.20 237.66L937.09 243.87L937.98 246.43L938.86 248.37L939.75 250.00L940.64 251.42L941.53 252.70L942.42 253.86L943.31 254.93L944.19 255.93L945.08 256.87L945.97 257.75L946.86 258.59L947.75 259.39L948.64 260.15L949.52 260.87L950.41 261.57L951.30 262.24L952.19 262.88L953.08 263.50L953.97 264.10L973.61 283.90L1037.95 291.30L1063.58 274.80L1066.06 274.17L1068.54 273.49L1071.03 272.76L1073.51 271.98L1075.99 271.13L1078.47 270.22L1080.95 269.24L1083.43 268.19L1085.91 267.05L1088.39 265.82L1090.87 264.49L1093.35 263.04L1095.83 261.45L1098.31 259.70L1100.80 257.74L1103.28 255.52L1105.76 252.94L1108.24 249.80L1110.72 245.62L1113.20 235.27" stroke="#222" stroke-width="0.75"/>
<path d="M936.20 237.66L937.09 243.87L937.98 246.43L938.86 248.37L939.75 250.00L940.64 251.42L941.53 252.70L942.42 253.86L943.31 254.93L944.19 255.93L945.08 256.87L945.97 257.75L946.86 258.59L947.75 259.39L948.64 260.15L949.52 260.87L950.41 261.57L951.30 262.24L952.19 262.88L953.08 263.50L953.97 264.10L973.61 283.90L1037.95 291.30L1063.58 274.80L1066.06 274.17L1068.54 273.49L1071.03 272.76L1073.51 271.98L1075.99 271.13L1078.47 270.22L1080.95 269.24L1083.43 268.19L1085.91 267.05L1088.39 265.82L1090.87 264.49L1093.35 263.04L1095.83 261.45L1098.31 259.70L1100.80 257.74L1103.28 255.52L1105.76 252.94L1108.24 249.80L1110.72 245.62L1113.20 235.27" stroke="#222" stroke-width="0.75" transform="translate(0 1.3)"/>
<path d="M936.20 248.22L937.17 254.72L938.14 257.38L939.11 259.41L940.08 261.10L941.04 262.58L942.01 263.91L942.98 265.12L943.95 266.23L944.92 267.27L945.89 268.24L946.86 269.16L947.83 270.02L948.79 270.85L949.76 271.63L950.73 272.38L951.70 273.10L952.67 273.79L953.64 274.45L954.61 275.09L955.58 275.70L975.22 295.50L1036.17 302.00L1061.09 286.40L1063.70 285.79L1066.30 285.13L1068.91 284.41L1071.51 283.63L1074.12 282.79L1076.72 281.89L1079.33 280.91L1081.94 279.85L1084.54 278.71L1087.15 277.47L1089.75 276.13L1092.36 274.66L1094.96 273.04L1097.57 271.26L1100.17 269.27L1102.78 267.01L1105.38 264.37L1107.99 261.17L1110.59 256.89L1113.20 246.29"/>
<path d="M936.20 256.97L937.13 263.32L938.05 265.92L938.98 267.91L939.90 269.56L940.83 271.01L941.75 272.31L942.68 273.50L943.60 274.59L944.53 275.61L945.46 276.56L946.38 277.46L947.31 278.31L948.23 279.12L949.16 279.89L950.08 280.63L951.01 281.34L951.93 282.01L952.86 282.67L953.79 283.29L954.71 283.90L974.36 302.90L1038.61 310.30L1063.43 293.80L1065.92 293.17L1068.41 292.50L1070.90 291.77L1073.39 290.98L1075.88 290.14L1078.36 289.23L1080.85 288.25L1083.34 287.19L1085.83 286.06L1088.32 284.83L1090.81 283.49L1093.29 282.04L1095.78 280.45L1098.27 278.69L1100.76 276.73L1103.25 274.51L1105.74 271.92L1108.22 268.78L1110.71 264.60L1113.20 254.24" stroke="#222" stroke-width="0.75"/>
<path d="M936.20 256.97L937.13 263.32L938.05 265.92L938.98 267.91L939.90 269.56L940.83 271.01L941.75 272.31L942.68 273.50L943.60 274.59L944.53 275.61L945.46 276.56L946.38 277.46L947.31 278.31L948.23 279.12L949.16 279.89L950.08 280.63L951.01 281.34L951.93 282.01L952.86 282.67L953.79 283.29L954.71 283.90L974.36 302.90L1038.61 310.30L1063.43 293.80L1065.92 293.17L1068.41 292.50L1070.90 291.77L1073.39 290.98L1075.88 290.14L1078.36 289.23L1080.85 288.25L1083.34 287.19L1085.83 286.06L1088.32 284.83L1090.81 283.49L1093.29 282.04L1095.78 280.45L1098.27 278.69L1100.76 276.73L1103.25 274.51L1105.74 271.92L1108.22 268.78L1110.71 264.60L1113.20 254.24" stroke="#222" stroke-width="0.75" transform="translate(0 1.3)"/>
</g>
<g fill="none" stroke="#111">
<path d="M997.3 568.7V548.1L1017.5 549.2V571.5" stroke-width="0.8"/>
<path d="M1115.3 516.5L1110.8 521.8V542.5" stroke-width="0.8"/>
</g>
<g fill="none" stroke="#111" stroke-width="0.95">
<path d="M936.6 122.4L942.4 109.7L974.2 112.7L987.3 107.6"/>
<path d="M936.6 122.4L973.4 126.6" stroke="#222" stroke-width="0.75"/>
<path d="M936.6 122.4L973.4 126.6" stroke="#222" stroke-width="0.75" transform="translate(0 1.2)"/>
<path d="M937.5 148.3Q950 133 972.9 129.9" stroke-width="1.1"/>
<path d="M973.4 126.8Q983 141.0 999.3 146.6" stroke="#222" stroke-width="0.8"/>
<path d="M973.6 128.4Q983 142.4 999.3 147.2" stroke="#222" stroke-width="0.8"/>
<path d="M973.7 130.0Q983 143.9 999.3 147.7" stroke="#222" stroke-width="0.8"/>
<path d="M973.9 131.6Q983 145.3 999.3 148.3" stroke="#222" stroke-width="0.8"/>
<path d="M999.3 146.4L990.8 163.4L986.6 187.4M990.8 163.4L1018.6 165.7L1023.3 190.7M1018.6 165.7L1027.7 148.8L1023 190.7"/>
<path d="M937.5 150Q948 178 986.6 187.4" stroke="#222" stroke-width="0.75"/>
<path d="M937.5 150Q948 178 986.6 187.4" stroke="#222" stroke-width="0.75" transform="translate(0 1.3)"/>
<path d="M1023 190.7Q1075 184 1104.2 166.5" stroke="#222" stroke-width="0.75"/>
<path d="M1023 190.7Q1075 184 1104.2 166.5" stroke="#222" stroke-width="0.75" transform="translate(0 1.3)"/>
<path d="M1068.3 136.5L1106 140L1111.9 126.8M1106 140L1104.2 166.5"/>
<path d="M1059.6 106.8Q1068 119 1075.4 122.7L1111.9 126.8"/>
<path d="M1068.3 140.6Q1092 148 1104.2 166.5" stroke="#222" stroke-width="0.75"/>
<path d="M1068.3 140.6Q1092 148 1104.2 166.5" stroke="#222" stroke-width="0.75" transform="translate(0 1.3)"/>
<path d="M1027.7 148.8Q1052 143.5 1068.3 136.5" stroke="#222" stroke-width="0.8"/>
<path d="M1027.7 149.4Q1052 144.9 1068.3 137.5" stroke="#222" stroke-width="0.8"/>
<path d="M1027.7 149.9Q1052 146.4 1068.3 138.4" stroke="#222" stroke-width="0.8"/>
<path d="M1027.7 150.5Q1052 147.8 1068.3 139.4" stroke="#222" stroke-width="0.8"/>
<path d="M1061.2 107.2Q1085 113 1095.4 124.5" stroke-width="0.8"/>
<path d="M1021.8 99.7L1029.4 83.5L1057.5 86.8L1060.6 106.8M1057.5 86.8L1049.4 102.7"/>
<path d="M987.1 107.5Q1023.3 91.5 1059.2 106.7" stroke-width="1"/>
<ellipse cx="1023.3" cy="120.2" rx="42.6" ry="18.2" stroke-width="0.9"/>
<path d="M981.2 115.5A43.6 19.6 0 1 0 1065.4 115.5" stroke="#222" stroke-width="1.1"/>
<path d="M979.9 121A43.6 19.6 0 0 0 1066.9 121" stroke="#1a1a1a" stroke-width="1.9"/>
<path d="M978 122.8A45.5 21.8 0 0 0 1069 122.8" stroke="#333" stroke-width="0.8"/>
<path d="M978.4 124.6A45.3 21.8 0 0 0 1068.6 124.6" stroke="#333" stroke-width="0.8"/>
<path d="M988.75 107.5L1058.3 112.5L1058.7 119L1057 124.2L988.3 117.5L988.3 112.6L988.75 107.5Z" fill="#fff"/>
<path d="M988.3 112.6L1058.7 119M1017.1 109.8V118.4M1029.8 110.8V119.7M1017.1 115.3L1029.8 116.4" stroke-width="0.8"/>
</g>
</svg>
</body></html>
